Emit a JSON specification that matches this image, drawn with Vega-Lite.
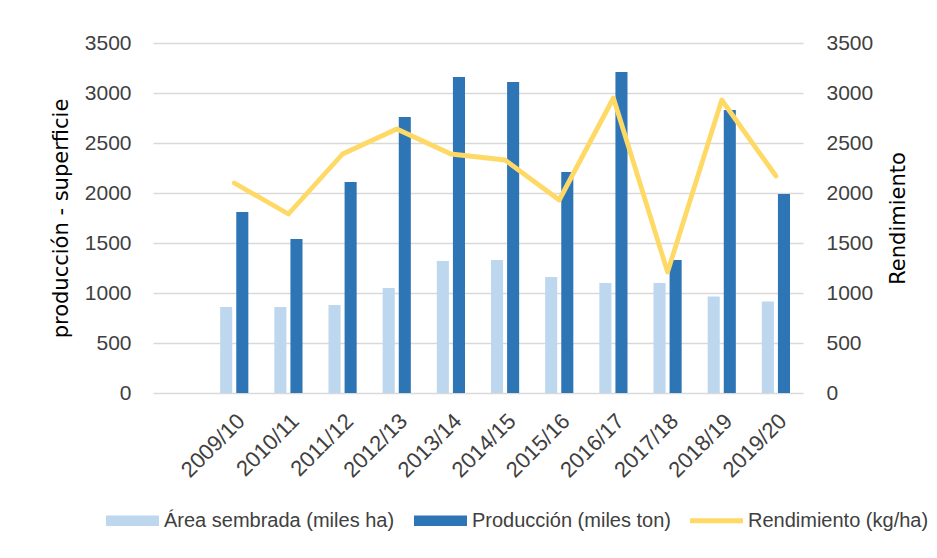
{
  "$schema": "https://vega.github.io/schema/vega-lite/v6.json",
  "width": 650,
  "height": 350,
  "autosize": {"type": "none"},
  "padding": {"left": 153, "top": 43, "right": 134, "bottom": 165},
  "background": "white",
  "config": {"view": {"stroke": null}, "font": "Liberation Sans"},
  "data": {
    "values": [
      {"campana": "2009/10", "area": 860, "prod": 1810, "rend": 2100},
      {"campana": "2010/11", "area": 860, "prod": 1540, "rend": 1790},
      {"campana": "2011/12", "area": 880, "prod": 2110, "rend": 2390},
      {"campana": "2012/13", "area": 1050, "prod": 2760, "rend": 2640},
      {"campana": "2013/14", "area": 1320, "prod": 3160, "rend": 2390},
      {"campana": "2014/15", "area": 1330, "prod": 3110, "rend": 2330},
      {"campana": "2015/16", "area": 1160, "prod": 2210, "rend": 1930},
      {"campana": "2016/17", "area": 1100, "prod": 3210, "rend": 2950},
      {"campana": "2017/18", "area": 1100, "prod": 1330, "rend": 1210},
      {"campana": "2018/19", "area": 965, "prod": 2830, "rend": 2930},
      {"campana": "2019/20", "area": 915, "prod": 1990, "rend": 2170}
    ]
  },
  "encoding": {
    "x": {
      "field": "campana",
      "type": "nominal",
      "sort": null,
      "scale": {
        "domain": [" ", "2009/10", "2010/11", "2011/12", "2012/13", "2013/14", "2014/15", "2015/16", "2016/17", "2017/18", "2018/19", "2019/20"],
        "paddingInner": 0.48,
        "paddingOuter": 0.24
      },
      "axis": {
        "title": null,
        "labelAngle": -45,
        "labelFontSize": 22,
        "labelColor": "#404040",
        "labelPadding": 17,
        "ticks": false,
        "domain": false,
        "grid": false
      }
    }
  },
  "layer": [
    {
      "transform": [{"fold": ["area", "prod"], "as": ["serie", "valor"]}],
      "mark": {"type": "bar"},
      "encoding": {
        "xOffset": {"field": "serie", "type": "nominal", "sort": ["area", "prod"], "scale": {"paddingInner": 0.25}},
        "y": {
          "field": "valor",
          "type": "quantitative",
          "scale": {"domain": [0, 3500]},
          "axis": {
            "title": "producción - superficie",
            "titleFont": "DejaVu Sans",
            "titleFontSize": 21,
            "titleFontWeight": "normal",
            "titleColor": "#000000",
            "titlePadding": 13,
            "labelFontSize": 21,
            "labelColor": "#404040",
            "labelPadding": 22,
            "ticks": false,
            "domain": false,
            "grid": true,
            "gridColor": "#D9D9D9",
            "gridWidth": 1.5,
            "values": [0, 500, 1000, 1500, 2000, 2500, 3000, 3500],
            "format": "d"
          }
        },
        "color": {
          "field": "serie",
          "type": "nominal",
          "scale": {"domain": ["area", "prod", "rend"], "range": ["#BDD7EE", "#2E75B6", "#FFD966"]},
          "legend": {
            "title": null,
            "orient": "none",
            "legendX": -47,
            "legendY": 451,
            "direction": "horizontal",
            "labelExpr": "datum.value === 'area' ? 'Área sembrada (miles ha)' : datum.value === 'prod' ? 'Producción (miles ton)' : 'Rendimiento (kg/ha)'",
            "labelFontSize": 20,
            "labelColor": "#404040",
            "labelLimit": 0,
            "labelOffset": 5,
            "columnPadding": 19,
            "symbolSize": 2809,
            "symbolType": "M-1,-0.2H1V0.2H-1Z",
            "symbolStrokeWidth": 0,
            "encode": {
              "symbols": {
                "update": {
                  "shape": {"signal": "datum.value === 'rend' ? 'M-1,-0.09H1V0.09H-1Z' : 'M-1,-0.2H1V0.2H-1Z'"},
                  "fill": {"scale": "color", "field": "value"},
                  "strokeWidth": {"value": 0}
                }
              }
            }
          }
        }
      }
    },
    {
      "mark": {"type": "line", "strokeWidth": 4.8, "strokeJoin": "round", "strokeCap": "round"},
      "encoding": {
        "y": {
          "field": "rend",
          "type": "quantitative",
          "scale": {"domain": [0, 3500]},
          "axis": {
            "orient": "right",
            "title": "Rendimiento",
            "titleAngle": 270,
            "titleFont": "DejaVu Sans",
            "titleFontSize": 21,
            "titleFontWeight": "normal",
            "titleColor": "#000000",
            "titlePadding": 36,
            "labelFontSize": 21,
            "labelColor": "#404040",
            "labelPadding": 23,
            "ticks": false,
            "domain": false,
            "grid": false,
            "values": [0, 500, 1000, 1500, 2000, 2500, 3000, 3500],
            "format": "d"
          }
        },
        "color": {"datum": "rend"}
      }
    }
  ],
  "resolve": {"scale": {"y": "independent"}}
}
